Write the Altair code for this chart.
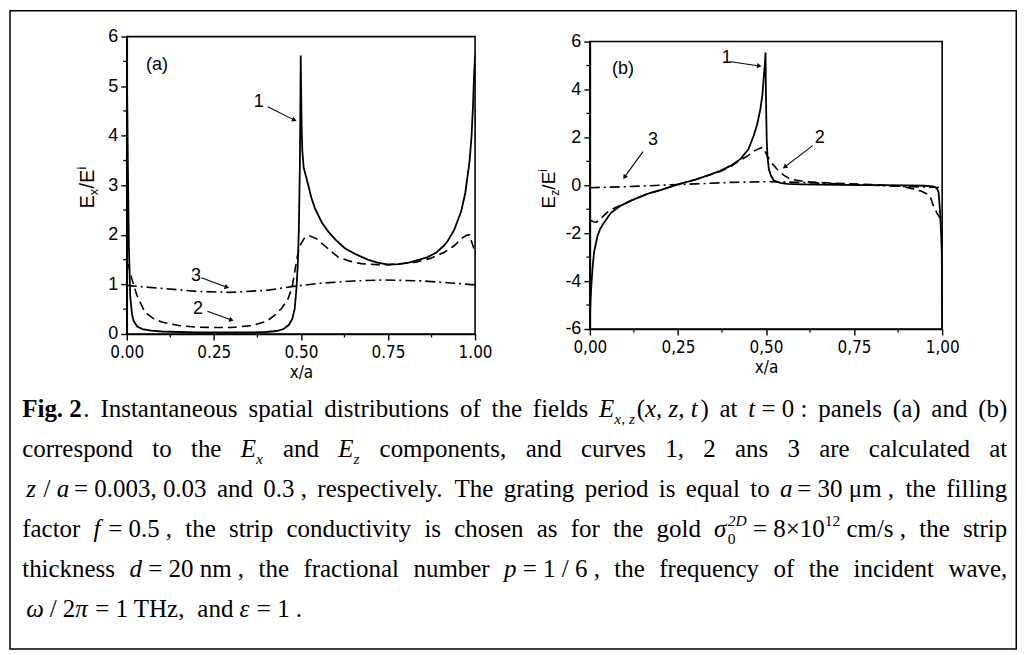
import math
import altair as alt
import pandas as pd

# ---------------- values ----------------
# panel (a): E_x / E^i versus x/a
a1_x = [0.0, 0.003, 0.006, 0.01, 0.015, 0.02, 0.03, 0.045, 0.07, 0.1, 0.15, 0.2, 0.25, 0.3, 0.35, 0.4,
        0.43, 0.45, 0.465, 0.475, 0.482, 0.487, 0.491, 0.494, 0.497, 0.4995, 0.5005, 0.502, 0.504, 0.508,
        0.516, 0.53, 0.54, 0.56, 0.578, 0.6, 0.626, 0.66, 0.692, 0.72, 0.75, 0.78, 0.81, 0.84, 0.864,
        0.89, 0.91, 0.921, 0.94, 0.96, 0.972, 0.984, 0.99, 0.994, 0.997, 1.0]
a1_y = [5.6, 3.5, 1.8, 0.75, 0.4, 0.26, 0.15, 0.1, 0.07, 0.05, 0.04, 0.03, 0.03, 0.03, 0.03, 0.04,
        0.06, 0.1, 0.18, 0.3, 0.5, 0.9, 1.4, 2.1, 3.4, 5.62, 5.0, 4.2, 3.7, 3.35,
        3.14, 2.75, 2.54, 2.25, 2.07, 1.9, 1.73, 1.6, 1.5, 1.44, 1.40, 1.41, 1.44, 1.5, 1.55,
        1.65, 1.78, 1.87, 2.1, 2.47, 2.85, 3.47, 4.0, 4.6, 5.2, 5.62]
a2_x = [0.0, 0.005, 0.015, 0.029, 0.052, 0.075, 0.1, 0.15, 0.196, 0.25, 0.3, 0.358, 0.4, 0.425, 0.445,
        0.463, 0.475, 0.482, 0.492, 0.5, 0.511, 0.525, 0.545, 0.568, 0.607, 0.64, 0.673, 0.72, 0.75,
        0.78, 0.83, 0.87, 0.912, 0.94, 0.96, 0.975, 0.984, 0.993, 1.0]
a2_y = [1.45, 1.38, 1.1, 0.78, 0.44, 0.32, 0.24, 0.17, 0.14, 0.13, 0.13, 0.17, 0.25, 0.38, 0.52,
        0.71, 0.95, 1.25, 1.65, 1.82, 1.95, 1.98, 1.92, 1.78, 1.55, 1.47, 1.42, 1.40, 1.40,
        1.41, 1.45, 1.52, 1.65, 1.78, 1.92, 1.99, 2.0, 1.8, 1.65]
a3_x = [0.0, 0.1, 0.2, 0.296, 0.4, 0.478, 0.55, 0.65, 0.741, 0.85, 0.93, 1.0]
a3_y = [0.98, 0.92, 0.86, 0.84, 0.88, 0.96, 1.02, 1.07, 1.09, 1.07, 1.03, 0.99]

# panel (b): E_z / E^i versus x/a
b1_x = [0.0, 0.002, 0.005, 0.008, 0.012, 0.022, 0.03, 0.041, 0.06, 0.088, 0.12, 0.163, 0.2, 0.248, 0.3,
        0.333, 0.37, 0.40, 0.428, 0.45, 0.465, 0.475, 0.484, 0.49, 0.494, 0.4975, 0.4986, 0.5, 0.502,
        0.504, 0.508, 0.514, 0.522, 0.54, 0.56, 0.6, 0.7, 0.8, 0.9, 0.95, 0.975, 0.985, 0.99, 0.994,
        0.997, 0.999, 1.0]
b1_y = [-5.7, -4.8, -4.0, -3.4, -2.79, -2.1, -1.8, -1.54, -1.15, -0.85, -0.62, -0.36, -0.2, 0.03, 0.24,
        0.4, 0.6, 0.82, 1.1, 1.5, 2.07, 2.55, 3.18, 3.8, 4.57, 5.2, 5.54, 3.6, 1.9,
        1.25, 0.68, 0.4, 0.2, 0.1, 0.06, 0.04, 0.02, 0.01, 0.0, -0.02, -0.05, -0.12, -0.3, -1.1,
        -2.0, -2.8, -6.0]
b2_x = [0.0, 0.01, 0.019, 0.03, 0.05, 0.07, 0.09, 0.12, 0.163, 0.2, 0.248, 0.3, 0.333, 0.37, 0.40,
        0.428, 0.45, 0.465, 0.48, 0.489, 0.495, 0.503, 0.515, 0.531, 0.55, 0.569, 0.61, 0.7, 0.8,
        0.88, 0.919, 0.94, 0.957, 0.968, 0.975, 0.985, 0.993, 1.0]
b2_y = [-1.45, -1.52, -1.54, -1.4, -1.12, -0.95, -0.82, -0.62, -0.36, -0.2, 0.03, 0.24, 0.4, 0.58, 0.78,
        1.05, 1.25, 1.42, 1.53, 1.58, 1.5, 1.24, 0.95, 0.68, 0.42, 0.26, 0.15, 0.08, 0.03,
        -0.03, -0.15, -0.24, -0.36, -0.55, -0.85, -1.15, -1.35, -1.45]
b3_x = [0.0, 0.1, 0.2, 0.25, 0.3, 0.4, 0.5, 0.6, 0.7, 0.8, 0.9, 1.0]
b3_y = [-0.1, -0.06, 0.0, 0.03, 0.06, 0.12, 0.15, 0.12, 0.06, 0.0, -0.05, -0.1]

x_ticks = [0.0, 0.25, 0.5, 0.75, 1.0]
x_minor = [0.125, 0.375, 0.625, 0.875]
a_yticks = [0, 1, 2, 3, 4, 5, 6]
a_yminor = [0.5, 1.5, 2.5, 3.5, 4.5, 5.5]
b_yticks = [-6, -4, -2, 0, 2, 4, 6]
b_yminor = [-5, -3, -1, 1, 3, 5]

# ---------------- layout (page pixels) ----------------
AX, AY, AW, AH = 125.75, 34.75, 349, 298
GAP = 115
BW, BH = 353, 288
BX, BY = AX + AW + GAP, AY + (AH - BH) / 2
CX, CY = AX, AY + AH
ORG_A, ORG_B, ORG_C = (AX, AY), (BX, BY), (CX, CY)

SANS = "Liberation Sans, Arial, sans-serif"
NARROW = "Liberation Sans Narrow, Arial Narrow, DejaVu Sans Condensed, Liberation Sans, sans-serif"
SERIF = "Liberation Serif, Times New Roman, serif"

ONE = alt.Data(values=[{"k": 0}])

SOLID, DASH, DASHDOT = None, [9, 5], [10, 4, 2, 4]


def txt(t, px, py, org, size=18, font=SANS, angle=0):
    return alt.Chart(ONE).mark_text(
        text=t, font=font, fontSize=size, angle=angle, align="left",
        baseline="alphabetic", color="black"
    ).encode(x=alt.value(px - org[0]), y=alt.value(py - org[1]))


def arrow(x1, y1, x2, y2, org):
    L = math.hypot(x2 - x1, y2 - y1)
    ux, uy = (x2 - x1) / L, (y2 - y1) / L
    ang = math.degrees(math.atan2(uy, ux)) % 360
    hx, hy = x2 - 2.5 * ux, y2 - 2.5 * uy
    ex, ey = x2 - 4 * ux, y2 - 4 * uy
    rule = alt.Chart(ONE).mark_rule(color="black", strokeWidth=1.1).encode(
        x=alt.value(x1 - org[0]), y=alt.value(y1 - org[1]),
        x2=alt.value(ex - org[0]), y2=alt.value(ey - org[1]))
    head = alt.Chart(ONE).mark_point(
        shape="triangle-right", filled=True, size=28, angle=ang, color="black", opacity=1
    ).encode(x=alt.value(hx - org[0]), y=alt.value(hy - org[1]))
    return [rule, head]


def vtitle(pieces, base_x, start_y, org):
    out, y = [], start_y
    for t, size, shift, w in pieces:
        out.append(txt(t, base_x + shift, y, org, size=size, angle=270))
        y -= w
    return out


def panel(curves, yticks, yminor, ydom, W, H, xlabel_expr, extra):
    xs = alt.X("x:Q", scale=alt.Scale(domain=[0, 1], nice=False, zero=False),
               axis=alt.Axis(values=x_ticks, labelExpr=xlabel_expr, title="x/a",
                             titleFont=NARROW, titleFontSize=17, titleFontWeight="normal",
                             titlePadding=4, labelFont=NARROW, labelFontSize=17, labelPadding=5,
                             tickSize=6, grid=False, labelFlush=False, labelOverlap=False))
    ys = alt.Y("y:Q", scale=alt.Scale(domain=ydom, nice=False, zero=False),
               axis=alt.Axis(values=yticks, labelExpr="'' + datum.value", title=None,
                             labelFont=SANS, labelFontSize=18, labelPadding=3, tickSize=6,
                             grid=False, labelOverlap=False))
    layers = []
    for xv, yv, dash, sw in curves:
        kw = dict(color="black", strokeWidth=sw, clip=True)
        if dash:
            kw["strokeDash"] = dash
        layers.append(alt.Chart(pd.DataFrame({"x": xv, "y": yv})).mark_line(**kw).encode(x=xs, y=ys))
    layers.append(alt.Chart(pd.DataFrame({"y": yminor})).mark_rule(color="black", strokeWidth=1.3)
                  .encode(y=ys, x=alt.value(0), x2=alt.value(-3.5)))
    layers.append(alt.Chart(pd.DataFrame({"x": x_minor})).mark_rule(color="black", strokeWidth=1.3)
                  .encode(x=xs, y=alt.value(H), y2=alt.value(H + 3.5)))
    layers += extra
    return alt.layer(*layers).properties(width=W, height=H)


# ---------------- panel (a) ----------------
extra_a = [txt("(a)", 145, 68, ORG_A), txt("1", 253, 105, ORG_A),
           txt("3", 190, 280, ORG_A), txt("2", 192, 313, ORG_A)]
extra_a += arrow(267, 105, 296, 119.5, ORG_A)
extra_a += arrow(200.5, 276.5, 228.5, 286.8, ORG_A)
extra_a += arrow(206.5, 310, 233, 319.5, ORG_A)
extra_a += vtitle([("E", 20, 0, 13.3), ("x", 13, 4, 6.8), ("/E", 20, 0, 18.9), ("i", 13, -8, 3)],
                  93, 207, ORG_A)
chart_a = panel([(a1_x, a1_y, SOLID, 1.8), (a2_x, a2_y, DASH, 1.6), (a3_x, a3_y, DASHDOT, 1.6)],
                a_yticks, a_yminor, [0, 6], AW, AH, "format(datum.value, '.2f')", extra_a)

# ---------------- panel (b) ----------------
extra_b = [txt("(b)", 612, 72, ORG_B), txt("1", 722, 61, ORG_B),
           txt("2", 815, 141, ORG_B), txt("3", 648, 143, ORG_B)]
extra_b += arrow(731, 60, 762, 64.5, ORG_B)
extra_b += arrow(813, 144, 783, 167, ORG_B)
extra_b += arrow(643, 150, 623, 177.5, ORG_B)
extra_b += vtitle([("E", 19, 0, 12.7), ("z", 12, 4, 6.2), ("/E", 19, 0, 18), ("i", 12, -8, 3)],
                  555, 207, ORG_B)
chart_b = panel([(b1_x, b1_y, SOLID, 1.8), (b2_x, b2_y, DASH, 1.6), (b3_x, b3_y, DASHDOT, 1.6)],
                b_yticks, b_yminor, [-6, 6], BW, BH,
                "replace(format(datum.value, '.2f'), '.', ',')", extra_b)

# ---------------- caption ----------------
UP = {'A': .722, 'B': .667, 'C': .667, 'D': .722, 'E': .611, 'F': .556, 'G': .722, 'H': .722, 'I': .333,
      'J': .389, 'K': .722, 'L': .611, 'M': .889, 'N': .722, 'O': .722, 'P': .556, 'Q': .722, 'R': .667,
      'S': .556, 'T': .611, 'U': .722, 'V': .722, 'W': .944, 'X': .722, 'Y': .722, 'Z': .611}
LOW = {'a': .444, 'b': .5, 'c': .444, 'd': .5, 'e': .444, 'f': .333, 'g': .5, 'h': .5, 'i': .278, 'j': .278,
       'k': .5, 'l': .278, 'm': .778, 'n': .5, 'o': .5, 'p': .5, 'q': .5, 'r': .333, 's': .389, 't': .278,
       'u': .5, 'v': .5, 'w': .722, 'x': .5, 'y': .5, 'z': .444}
PUN = {' ': .25, '(': .333, ')': .333, ',': .25, '.': .25, '/': .278, ':': .278, '=': .564, '×': .564,
       'μ': .576, 'σ': .55, 'ω': .69, 'π': .55, 'ε': .44, '-': .333}


def em(s):
    return sum(UP.get(c) or LOW.get(c) or PUN.get(c) or 0.5 for c in s)


def plain(s):
    return [[(w, "r")] for w in s.split()]


L1 = ([[("Fig. 2", "b"), (".", "r")]] + plain("Instantaneous spatial distributions of the fields")
      + [[("E", "i"), ("x, z", "subi"), ("(", "r"), ("x, z, t", "i"), (")", "r")], [("at", "r")],
         [("t", "i"), (" = 0 :", "r")]] + plain("panels (a) and (b)"))
L2 = (plain("correspond to the") + [[("E", "i"), ("x", "subi")]] + plain("and")
      + [[("E", "i"), ("z", "subi")]] + plain("components, and curves 1, 2 ans 3 are calculated at"))
L3 = ([[("z", "i"), (" / ", "r"), ("a", "i"), (" = 0.003, 0.03", "r")]] + plain("and") + [[("0.3 ,", "r")]]
      + plain("respectively. The grating period is equal to") + [[("a", "i"), (" = 30 μm ,", "r")]]
      + plain("the filling"))
L4 = (plain("factor") + [[("f", "i"), (" = 0.5 ,", "r")]]
      + plain("the strip conductivity is chosen as for the gold")
      + [[("σ", "i"), (("0", "2D"), "stack"), (" = 8×10", "r"), ("12", "supr"), (" cm/s ,", "r")]]
      + plain("the strip"))
L5 = (plain("thickness") + [[("d", "i"), (" = 20 nm ,", "r")]] + plain("the fractional number")
      + [[("p", "i"), (" = 1 / 6 ,", "r")]] + plain("the frequency of the incident wave,"))
L6 = ([[("ω", "i"), (" / 2", "r"), ("π", "i"), (" = 1  THz,", "r")]] + plain("and")
      + [[("ε", "i"), (" = 1 .", "r")]])

CAP = [(L1, 21, 416, True), (L2, 21, 456, True), (L3, 25, 496, True),
       (L4, 21, 536, True), (L5, 21, 576, True), (L6, 25, 616, False)]
FS = 25
X_RIGHT = 1008
rows = {"r": [], "i": [], "b": []}


def piece_width(text, kind):
    if kind == "stack":
        return max(em(text[0]), em(text[1])) * 0.62 * FS
    small = kind.startswith("sub") or kind.startswith("sup")
    w = em(text) * (0.62 * FS if small else FS)
    return w * 1.05 if kind == "b" else w


def emit(text, kind, x, base):
    if kind == "stack":
        rows["r"].append(dict(t=text[0], x=x, y=base + 0.28 * FS, s=0.62 * FS))
        rows["i"].append(dict(t=text[1], x=x, y=base - 0.42 * FS, s=0.62 * FS))
        return
    small = kind.startswith("sub") or kind.startswith("sup")
    s = 0.62 * FS if small else FS
    y = base + (0.28 * FS if kind.startswith("sub") else (-0.42 * FS if kind.startswith("sup") else 0))
    grp = "b" if kind == "b" else ("i" if kind.endswith("i") else "r")
    lead = len(text) - len(text.lstrip())
    rows[grp].append(dict(t=text.strip(), x=x + em(text[:lead]) * s, y=y, s=s))


for words, x0, base, justify in CAP:
    widths = [sum(piece_width(t, k) for t, k in w) for w in words]
    if justify:
        gap = (X_RIGHT - x0 - sum(widths)) / (len(words) - 1)
    else:
        gap = 0.25 * FS
    x = x0
    for w, ww in zip(words, widths):
        xx = x
        for t, k in w:
            emit(t, k, xx, base)
            xx += piece_width(t, k)
        x += ww + gap

cap_layers = [alt.Chart(ONE).mark_rect(filled=False, color="black", strokeWidth=1.5).encode(
    x=alt.value(8.75 - CX), x2=alt.value(1017 - CX), y=alt.value(8.75 - CY), y2=alt.value(648.5 - CY))]
for grp, style, weight in [("r", "normal", "normal"), ("i", "italic", "normal"), ("b", "normal", "bold")]:
    df = pd.DataFrame(rows[grp])
    df["x"] = df["x"] - CX
    df["y"] = df["y"] - CY
    cap_layers.append(alt.Chart(df).mark_text(
        font=SERIF, fontStyle=style, fontWeight=weight, align="left", baseline="alphabetic", color="black"
    ).encode(x=alt.X("x:Q", scale=None, axis=None), y=alt.Y("y:Q", scale=None, axis=None),
             text="t:N", size=alt.Size("s:Q", scale=None, legend=None)))
caption = alt.layer(*cap_layers).properties(width=AW, height=1,
                                            view=alt.ViewBackground(stroke="transparent"))

chart = alt.concat(
    chart_a, chart_b, caption, columns=2,
    spacing=alt.RowColnumber(row=0, column=GAP), bounds="flush", align="each", center=True
).properties(padding=0).configure_axis(
    domainColor="black", domainWidth=1.6, tickColor="black", tickWidth=1.4,
    labelColor="black", titleColor="black"
).configure_view(stroke="black", strokeWidth=1.6)

chart.save("out.html", embed_options={"renderer": "svg", "actions": False})
